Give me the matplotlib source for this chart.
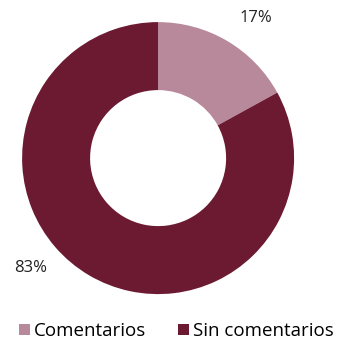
import matplotlib
matplotlib.use("Agg")
import matplotlib.pyplot as plt
from matplotlib.patches import Patch

categories = ["Comentarios", "Sin comentarios"]
values = [17, 83]
labels = ["17%", "83%"]
colors = ["#B8899A", "#6C1A31"]

plt.rcParams['font.family'] = ['Open Sans', 'DejaVu Sans']

fig = plt.figure(figsize=(3.4, 3.4), dpi=100)
ax = fig.add_axes([0.065, 0.135, 0.8, 0.8])
ax.pie(values, colors=colors, startangle=90, counterclock=False,
       wedgeprops=dict(width=0.5, edgecolor='none'), radius=1.0)
ax.set_xlim(-1, 1)
ax.set_ylim(-1, 1)
ax.set_aspect('equal')
ax.axis('off')

ax.text(0.72, 1.03, labels[0], ha='center', va='center', fontsize=12, color='#222222')
ax.text(-0.94, -0.81, labels[1], ha='center', va='center', fontsize=12, color='#222222')

handles = [Patch(facecolor=c, edgecolor='none') for c in colors]
fig.legend(handles, categories, loc='center', bbox_to_anchor=(0.52, 0.027),
           ncol=2, frameon=False, fontsize=13.5, handlelength=0.55, handleheight=0.55,
           handletextpad=0.25, columnspacing=1.7, borderaxespad=0)

fig.savefig("out.png", dpi=100, facecolor='white')
